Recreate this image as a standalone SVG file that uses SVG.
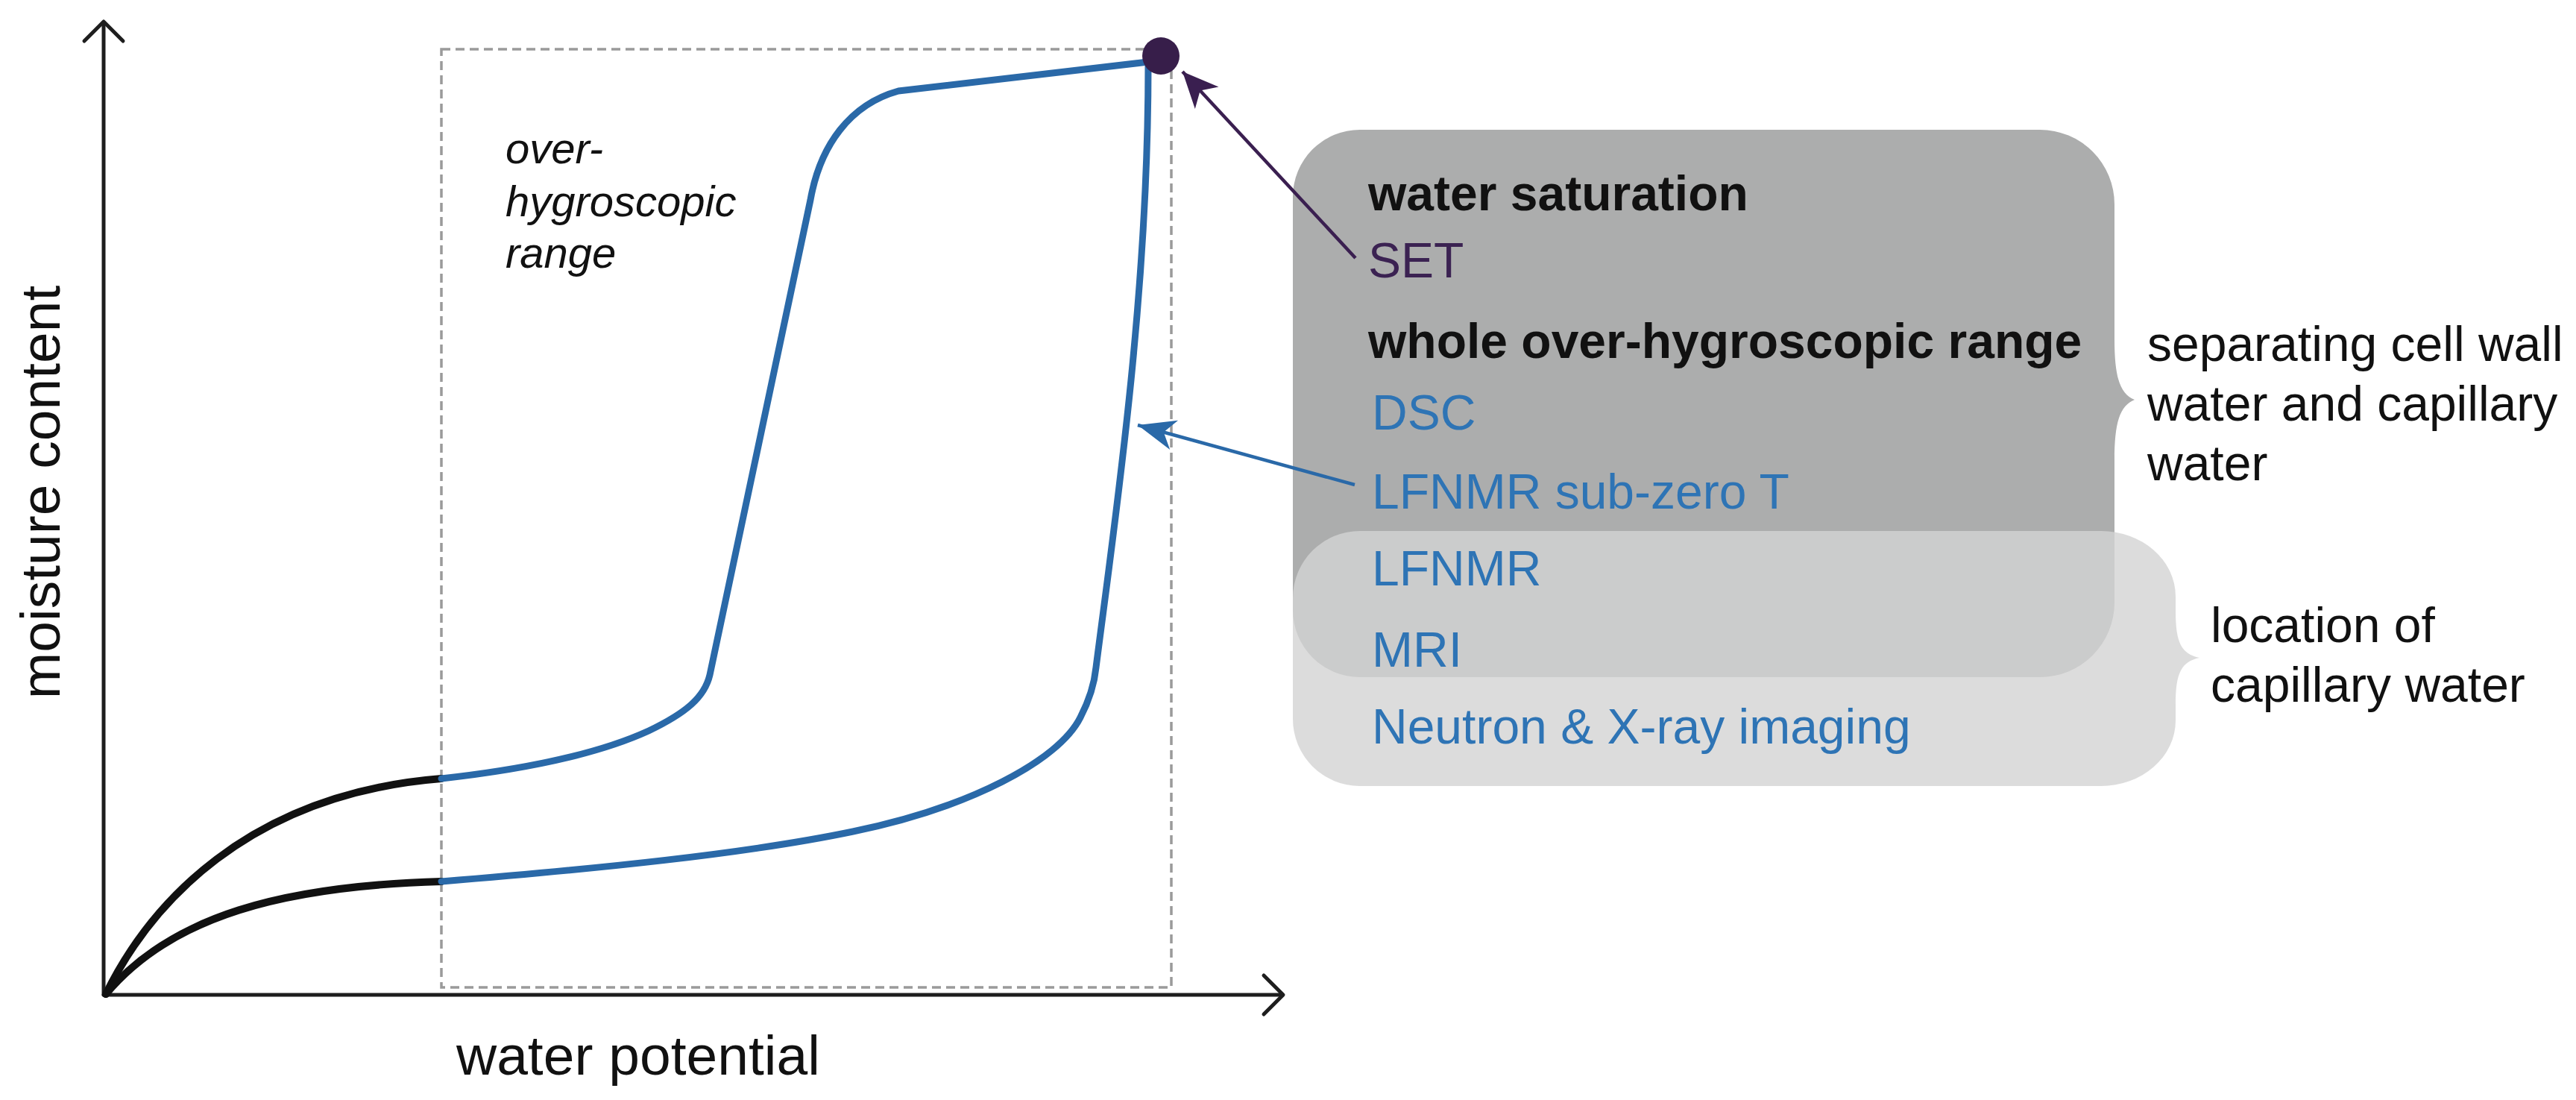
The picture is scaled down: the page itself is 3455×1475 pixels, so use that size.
<svg xmlns="http://www.w3.org/2000/svg" width="3455" height="1475" viewBox="0 0 3455 1475">
<style>
.ax{fill:none;stroke:#1e1e1e;stroke-width:5;stroke-linecap:round;stroke-linejoin:round}
.blk{fill:none;stroke:#111;stroke-width:10;stroke-linecap:round}
.blu{fill:none;stroke:#2a69a8;stroke-width:9;stroke-linecap:round;stroke-linejoin:round}
.t{font-family:"Liberation Sans",Arial,sans-serif}
.lab{font-size:75px;fill:#111}
.hd{font-size:66px;font-weight:bold;fill:#111}
.bt{font-size:66px;fill:#2e74b5}
.rt{font-size:66px;fill:#111}
.it{font-size:58px;font-style:italic;fill:#111}
</style>
<defs>
<marker id="hp" markerUnits="userSpaceOnUse" markerWidth="60" markerHeight="60" viewBox="-45 -25 50 50" refX="0" refY="0" orient="auto">
<path d="M0,0 L-40,-18 L-29,0 L-40,18 Z" fill="#3a1f50"/>
</marker>
<marker id="hb" markerUnits="userSpaceOnUse" markerWidth="60" markerHeight="60" viewBox="-45 -25 50 50" refX="0" refY="0" orient="auto">
<path d="M0,0 L-42,-17 L-30,0 L-42,17 Z" fill="#2a69a8"/>
</marker>
</defs>
<rect width="3455" height="1475" fill="#fff"/>

<g id="range-box">
<rect x="592" y="66" width="979" height="1258" fill="none" stroke="#9a9a9a" stroke-width="3.5" stroke-dasharray="12 7"/>
</g>

<g id="axes">
<path class="ax" d="M139,1334 V30"/>
<path class="ax" d="M113,55 L139,29 L165,55"/>
<path class="ax" d="M139,1334 H1720"/>
<path class="ax" d="M1695,1308 L1721,1334 L1695,1360"/>
<text class="t lab" transform="translate(80,660) rotate(-90)" text-anchor="middle">moisture content</text>
<text class="t lab" x="612" y="1441">water potential</text>
</g>

<g id="curves">
<path class="blk" d="M142,1333 C200,1215 330,1065 592,1044"/>
<path class="blk" d="M142,1333 C230,1228 380,1188 592,1182"/>
<path class="blu" d="M592,1044 C700,1032 800,1012 870,980 C920,956 945,935 952,905 L1087,268 C1100,195 1140,140 1205,122 L1540,83"/>
<path class="blu" d="M592,1182 C800,1165 1000,1145 1144,1115 C1300,1083 1420,1020 1449,962 C1463,935 1468,915 1470,895 C1495,700 1540,400 1540,89"/>
</g>

<g id="saturation-point">
<circle cx="1557" cy="75" r="25" fill="#371e4a"/>
</g>

<g id="range-label">
<text class="t it" x="678" y="219">over-</text>
<text class="t it" x="678" y="290">hygroscopic</text>
<text class="t it" x="678" y="359">range</text>
</g>

<g id="methods-box">
<path fill="#acadad" d="M1824,174 H2736 A100,100 0 0 1 2836,274 V455 C2836,505 2843,528 2863,536 C2843,544 2836,567 2836,617 V808 A100,100 0 0 1 2736,908 H1824 A90,90 0 0 1 1734,818 V264 A90,90 0 0 1 1824,174 Z"/>
</g>
<g id="capillary-box">
<path fill="#d3d3d3" fill-opacity="0.8" d="M1824,712 H2818 A100,88 0 0 1 2918,800 V820 C2918,862 2926,877 2950,882 C2926,887 2918,902 2918,944 V966 A100,88 0 0 1 2818,1054 H1824 A90,90 0 0 1 1734,964 V802 A90,90 0 0 1 1824,712 Z"/>
</g>

<g id="methods-text">
<text class="t hd" x="1835" y="282">water saturation</text>
<text class="t" x="1835" y="372" font-size="66" fill="#3b2252">SET</text>
<text class="t hd" x="1835" y="480">whole over-hygroscopic range</text>
<text class="t bt" x="1840" y="576">DSC</text>
<text class="t bt" x="1840" y="682">LFNMR sub-zero T</text>
<text class="t bt" x="1840" y="785">LFNMR</text>
<text class="t bt" x="1840" y="894">MRI</text>
<text class="t bt" x="1840" y="997">Neutron &amp; X-ray imaging</text>
</g>

<g id="brace-labels">
<text class="t rt" x="2880" y="484">separating cell wall</text>
<text class="t rt" x="2880" y="564">water and capillary</text>
<text class="t rt" x="2880" y="644">water</text>
<text class="t rt" x="2965" y="861">location of</text>
<text class="t rt" x="2965" y="941">capillary water</text>
</g>

<g id="connectors">
<line x1="1818" y1="346" x2="1586" y2="96" stroke="#3a1f50" stroke-width="4.5" marker-end="url(#hp)"/>
<line x1="1817" y1="650" x2="1526" y2="570" stroke="#2a69a8" stroke-width="4.5" marker-end="url(#hb)"/>
</g>
</svg>
